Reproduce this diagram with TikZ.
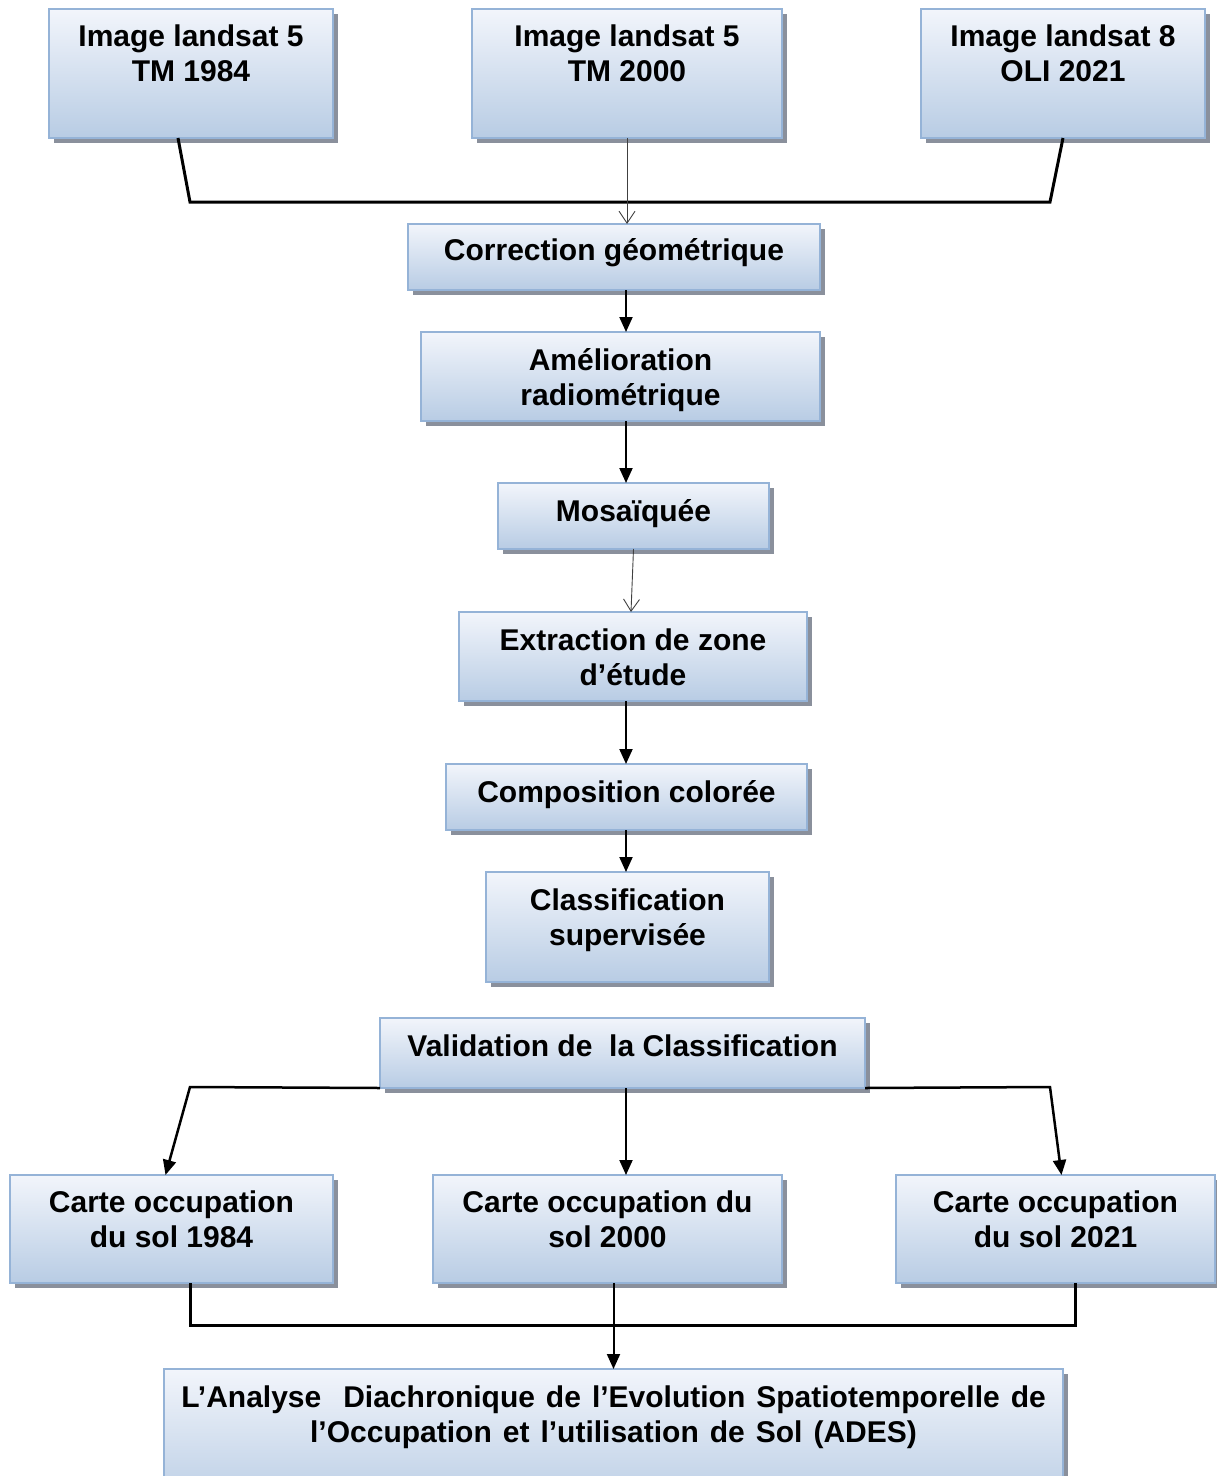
\documentclass[tikz,border=0pt]{standalone}
\usepackage{fontspec}
\setmainfont{Liberation Sans}
\usetikzlibrary{arrows.meta,shadows,calc}
\definecolor{bxborder}{RGB}{149,179,215}
\definecolor{bxtop}{RGB}{242,245,251}
\definecolor{bxbot}{RGB}{184,204,228}
\definecolor{bxshadow}{RGB}{138,144,156}
\definecolor{thinline}{RGB}{64,64,64}
\newcommand\mkbox[7]{\node[box] (#1) at (#2,#3) {\parbox[c][#5pt][t]{#4pt}{\centering\rule{0pt}{#6pt}#7}};}
\begin{document}
\begin{tikzpicture}[x=1pt,y=-1pt,
 box/.style={draw=bxborder, line width=2.5pt, top color=bxtop, bottom color=bxbot, inner sep=0pt, outer sep=0pt, anchor=north west,
   drop shadow={shadow xshift=4.5pt, shadow yshift=-4.5pt, fill=bxshadow, opacity=1},
   font=\fontsize{30}{35.5}\selectfont\bfseries},
 link/.style={line width=3pt, black, line join=miter},
 arr/.style={line width=2pt, black, -{Triangle[length=15pt,width=13pt]}},
 thinarr/.style={line width=0.9pt, thinline, -{Straight Barb[length=12pt,width=16pt,line width=0.9pt]}}]
\useasboundingbox (0,0) rectangle (1217,1476);

\mkbox{i1}{49}{9}{284}{129}{37}{Image landsat 5\\TM 1984}
\mkbox{i2}{472}{9}{310}{129}{37}{Image landsat 5\\TM 2000}
\mkbox{i3}{921}{9}{284}{129}{37}{Image landsat 8\\OLI 2021}
\mkbox{cg}{408}{224}{412}{66}{36}{Correction géométrique}
\mkbox{am}{421}{332}{399}{89}{38}{Amélioration\\radiométrique}
\mkbox{mo}{498}{483}{271}{66}{38}{Mosaïquée}
\mkbox{ex}{459}{612}{348}{89}{38}{Extraction de zone\\d’étude}
\mkbox{co}{446}{764}{361}{66}{38}{Composition colorée}
\mkbox{cl}{486}{872}{283}{110}{38}{Classification\\supervisée}
\mkbox{va}{380}{1018}{485}{70}{38}{Validation de\ \ la Classification}
\mkbox{c1}{10}{1175}{323}{108}{37}{Carte occupation\\du sol 1984}
\mkbox{c2}{433}{1175}{349}{108}{37}{Carte occupation du\\sol 2000}
\mkbox{c3}{896}{1175}{319}{108}{37}{Carte occupation\\du sol 2021}
\mkbox{an}{164}{1369}{899}{140}{38}{\spaceskip=11pt plus 2pt L’Analyse\ \ Diachronique de l’Evolution Spatiotemporelle de\\l’Occupation et l’utilisation de Sol (ADES)}

\coordinate (axis) at (626,0);
\coordinate (tl) at (190,202);
\coordinate (tr) at (1050,202);
\draw[link] ([xshift=-13pt]i1.south) -- (tl) -- (tr) -- (i3.south);
\draw[thinarr] (i2.south) -- (i2.south |- cg.north);
\draw[arr] (cg.south -| axis) -- (am.north -| axis);
\draw[arr] (am.south -| axis) -- (mo.north -| axis);
\draw[thinarr] (mo.south) -- ([xshift=-2pt]ex.north);
\draw[arr] (ex.south -| axis) -- (co.north -| axis);
\draw[arr] (co.south -| axis) -- (cl.north -| axis);

\coordinate (vl) at (190,1087);
\coordinate (vr) at (1050,1087);
\draw[arr, line width=2.5pt] (va.south west) -- (vl) -- ([xshift=-6pt]c1.north);
\draw[arr, line width=2.5pt] (va.south east) -- (vr) -- ([xshift=6pt]c3.north);
\draw[arr] (va.south -| axis) -- (c2.north -| axis);

\coordinate (bl) at (190,1325);
\coordinate (br) at (1075,1325);
\draw[link] (c1.south -| bl) -- (bl) -- (br) -- (c3.south -| br);
\draw[arr] (c2.south -| an.north) -- (an.north);
\end{tikzpicture}
\end{document}
